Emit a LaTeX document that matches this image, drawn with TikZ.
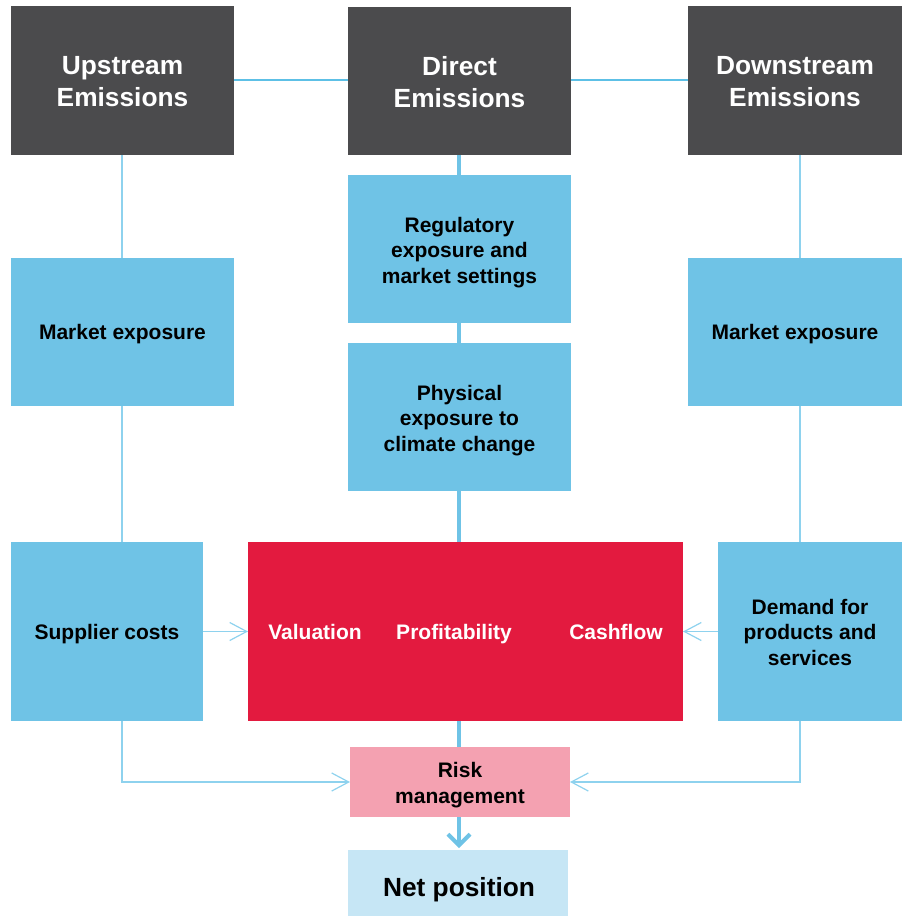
\documentclass[tikz,border=0pt]{standalone}
\usepackage{fontspec}
\setmainfont{Liberation Sans}
\usetikzlibrary{arrows.meta}
\definecolor{hdr}{HTML}{4B4B4D}
\definecolor{bbox}{HTML}{6FC3E6}
\definecolor{thinl}{HTML}{8ED2EE}
\definecolor{hline}{HTML}{5DC0E6}
\definecolor{redb}{HTML}{E31A3F}
\definecolor{pinkb}{HTML}{F4A1B1}
\definecolor{netb}{HTML}{C6E6F5}
\tikzset{
  x=1pt,y=-1pt,
  box/.style={anchor=north west,inner sep=0pt,outer sep=0pt},
  hdrbox/.style={box,fill=hdr},
  bluebox/.style={box,fill=bbox},
  txt/.style={inner sep=0pt,align=center,font=\bfseries\fontsize{21}{25.5}\selectfont},
  hdrtxt/.style={txt,text=white,font=\bfseries\fontsize{26.3}{32}\selectfont},
  thinline/.style={draw=thinl,line width=1.5pt},
  thickline/.style={draw=bbox,line width=4pt},
  thinarrow/.style={thinline,-{Straight Barb[length=17pt,width=18pt,line width=1.2pt]}},
  redtext/.style={txt,text=white}
}
\begin{document}
\begin{tikzpicture}
\useasboundingbox (0,0) rectangle (903,916);
% headers
\node[hdrbox,minimum width=223pt,minimum height=149pt] (up) at (11,6) {};
\node[hdrbox,minimum width=223pt,minimum height=148pt] (dir) at (348,7) {};
\node[hdrbox,minimum width=214pt,minimum height=149pt] (down) at (688,6) {};
\node[hdrtxt] (upt) at ([yshift=-1.5pt]up.center) {Upstream\\Emissions};
\node[hdrtxt] (dirt) at ([yshift=-1.5pt]dir.center) {Direct\\Emissions};
\node[hdrtxt] (downt) at ([yshift=-1.5pt]down.center) {Downstream\\Emissions};
% blue boxes
\node[bluebox,minimum width=223pt,minimum height=148pt] (mkl) at (11,258) {};
\node[bluebox,minimum width=223pt,minimum height=148pt] (reg) at (348,175) {};
\node[bluebox,minimum width=223pt,minimum height=148pt] (phy) at (348,343) {};
\node[bluebox,minimum width=214pt,minimum height=148pt] (mkr) at (688,258) {};
\node[bluebox,minimum width=192pt,minimum height=179pt] (sup) at (11,542) {};
\node[bluebox,minimum width=184pt,minimum height=179pt] (dem) at (718,542) {};
\node[txt] (mklt) at ([yshift=-2.5pt]mkl.center) {Market exposure};
\node[txt] (regt) at ([yshift=-3.5pt]reg.center) {Regulatory\\exposure and\\market settings};
\node[txt] (phyt) at ([yshift=-3.5pt]phy.center) {Physical\\exposure to\\climate change};
\node[txt] (mkrt) at ([yshift=-2.5pt]mkr.center) {Market exposure};
\node[txt] (supt) at ([yshift=-2.5pt]sup.center) {Supplier costs};
\node[txt] (demt) at ([yshift=-0.5pt]dem.center) {Demand for\\products and\\services};
% red box
\node[box,fill=redb,minimum width=435pt,minimum height=179pt] (red) at (248,542) {};
\node[redtext,anchor=base] (val) at (315,639.5) {Valuation};
\node[redtext,anchor=base] (prof) at (454,639.5) {Profitability};
\node[redtext,anchor=base] (cash) at (616,639.5) {Cashflow};
% risk and net
\node[box,fill=pinkb,minimum width=220pt,minimum height=70pt] (risk) at (350,747) {};
\node[txt] (riskt) at ([yshift=-3pt]risk.center) {Risk\\management};
\node[box,fill=netb,minimum width=220pt,minimum height=66pt] (net) at (348,850) {};
\node[txt,font=\bfseries\fontsize{26.3}{32}\selectfont,anchor=base] (nett) at (459,896) {Net position};
% header connectors
\draw[draw=hline,line width=1.5pt] (up.east |- 0,80) -- (dir.west |- 0,80);
\draw[draw=hline,line width=1.5pt] (dir.east |- 0,80) -- (down.west |- 0,80);
% center thick
\coordinate (cx) at (459,0);
\draw[thickline] (dir.south -| cx) -- (reg.north -| cx);
\draw[thickline] (reg.south -| cx) -- (phy.north -| cx);
\draw[thickline] (phy.south -| cx) -- (red.north -| cx);
\draw[thickline] (red.south -| cx) -- (risk.north -| cx);
\draw[thickline,-{Straight Barb[length=11pt,width=22pt,line width=4pt]}] (risk.south -| cx) -- ([yshift=2pt]net.north -| cx);
% left column
\coordinate (lx) at (122,0);
\draw[thinline] (up.south -| lx) -- (mkl.north -| lx);
\draw[thinline] (mkl.south -| lx) -- (sup.north -| lx);
\draw[thinarrow] (sup.south -| lx) |- (risk.west);
\draw[thinarrow] (sup.east) -- (red.west |- sup.east);
% right column
\coordinate (rx) at (800,0);
\draw[thinline] (down.south -| rx) -- (mkr.north -| rx);
\draw[thinline] (mkr.south -| rx) -- (dem.north -| rx);
\draw[thinarrow] (dem.south -| rx) |- (risk.east);
\draw[thinarrow] (dem.west) -- (red.east |- dem.west);
\end{tikzpicture}
\end{document}
